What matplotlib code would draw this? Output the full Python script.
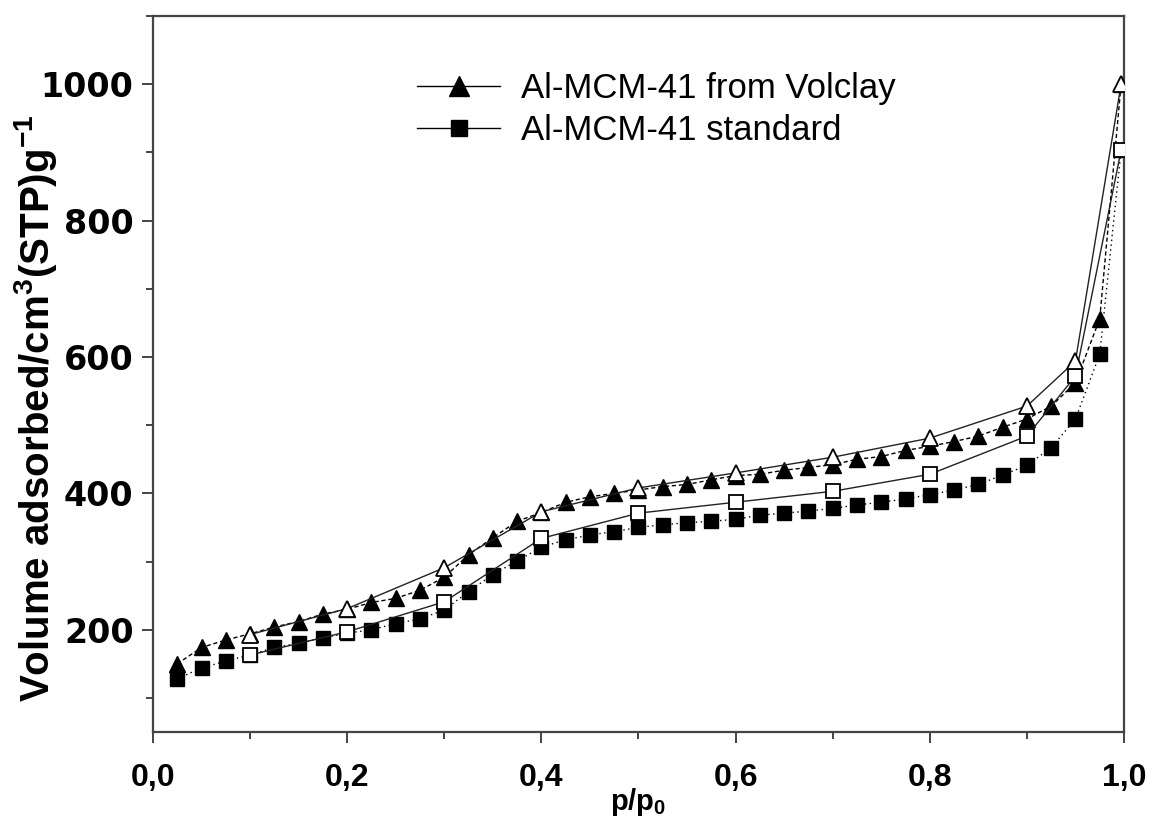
import matplotlib
matplotlib.use("Agg")
import matplotlib.pyplot as plt
from matplotlib.lines import Line2D
from matplotlib.ticker import MultipleLocator, FuncFormatter

plt.rcParams['mathtext.fontset'] = 'custom'
plt.rcParams['mathtext.rm'] = 'Liberation Sans:bold'
plt.rcParams['mathtext.bf'] = 'Liberation Sans:bold'
plt.rcParams['mathtext.it'] = 'Liberation Sans:bold'

# relative pressure, adsorption branch
p_ads = [0.025, 0.05, 0.075, 0.1, 0.125, 0.15, 0.175, 0.2, 0.225, 0.25,
         0.275, 0.3, 0.325, 0.35, 0.375, 0.4, 0.425, 0.45, 0.475, 0.5,
         0.525, 0.55, 0.575, 0.6, 0.625, 0.65, 0.675, 0.7, 0.725, 0.75,
         0.775, 0.8, 0.825, 0.85, 0.875, 0.9, 0.925, 0.95, 0.975, 0.997]

volclay_ads = [150, 174, 185, 194, 204, 212, 223, 230, 240, 246,
               258, 277, 310, 335, 359, 372, 387, 395, 400, 405,
               410, 413, 420, 426, 428, 434, 438, 442, 450, 454,
               463, 469, 476, 484, 497, 509, 528, 562, 656, 1000]

standard_ads = [128, 144, 154, 163, 174, 180, 188, 195, 200, 209,
                216, 229, 256, 281, 301, 321, 332, 339, 344, 350,
                354, 357, 359, 362, 368, 371, 374, 378, 383, 387,
                392, 398, 405, 413, 427, 441, 467, 509, 604, 903]

# desorption branch
p_des = [0.997, 0.95, 0.9, 0.8, 0.7, 0.6, 0.5, 0.4, 0.3, 0.2, 0.1]
volclay_des = [1000, 594, 528, 481, 453, 430, 408, 373, 291, 231, 193]
standard_des = [903, 572, 484, 428, 403, 387, 371, 334, 241, 197, 163]

fig = plt.figure(figsize=(11.52, 8.18), dpi=100)
ax = fig.add_axes([0.1328, 0.1051, 0.8429, 0.8753])

# adsorption (filled)
ax.plot(p_ads, standard_ads, color='black', lw=1.0, ls=(0, (1, 2.5)),
        marker='s', ms=9.5, mfc='black', mec='black', zorder=2)
ax.plot(p_ads, volclay_ads, color='black', lw=1.0, ls=(0, (3, 2)),
        marker='^', ms=11, mfc='black', mec='black', zorder=2)

# desorption (open)
ax.plot(p_des, standard_des, color='#222222', lw=1.0, ls='-',
        marker='s', ms=9.5, mfc='white', mec='black', mew=1.3, zorder=3)
ax.plot(p_des, volclay_des, color='#222222', lw=1.0, ls='-',
        marker='^', ms=11, mfc='white', mec='black', mew=1.3, zorder=3)

ax.set_xlim(0, 1.0)
ax.set_ylim(50, 1100)

ax.xaxis.set_major_locator(MultipleLocator(0.2))
ax.xaxis.set_minor_locator(MultipleLocator(0.1))
ax.yaxis.set_major_locator(MultipleLocator(200))
ax.yaxis.set_minor_locator(MultipleLocator(100))
ax.xaxis.set_major_formatter(FuncFormatter(lambda v, pos: f"{v:.1f}".replace('.', ',')))
ax.yaxis.set_major_formatter(FuncFormatter(lambda v, pos: f"{int(v)}"))

for s in ax.spines.values():
    s.set_linewidth(1.6)
    s.set_color('#444444')

ax.tick_params(which='both', direction='out', top=False, right=False,
               color='#444444', width=1.4)
ax.tick_params(which='major', length=8)
ax.tick_params(which='minor', length=5)
ax.tick_params(axis='x', which='major', pad=14)
ax.tick_params(axis='y', which='major', pad=6)

for lab in ax.get_xticklabels():
    lab.set_fontfamily('Liberation Sans')
    lab.set_fontweight('bold')
    lab.set_fontsize(23)
for lab in ax.get_yticklabels():
    lab.set_fontfamily('DejaVu Sans')
    lab.set_fontweight('bold')
    lab.set_fontsize(24)

ax.set_xlabel(r'p/p$_{0}$', fontsize=21, fontweight='bold',
              family='Liberation Sans')
ax.xaxis.set_label_coords(0.5, -0.076)
ax.set_ylabel(r'Volume adsorbed/cm$^{3}$(STP)g$^{-1}$',
              fontsize=29, fontweight='bold', family='Liberation Sans')
ax.yaxis.set_label_coords(-0.097, 0.452)

handles = [
    Line2D([], [], color='black', lw=1.0, marker='^', ms=14, mfc='black', mec='black'),
    Line2D([], [], color='black', lw=1.0, marker='s', ms=11, mfc='black', mec='black'),
]
ax.legend(handles, ['Al-MCM-41 from Volclay', 'Al-MCM-41 standard'],
          loc='upper left', bbox_to_anchor=(0.272, 0.922), frameon=False,
          prop={'family': 'Liberation Sans', 'size': 25},
          handlelength=2.4, handletextpad=0.58, labelspacing=0.27,
          borderpad=0, borderaxespad=0)

fig.savefig('out.png', dpi=100)
